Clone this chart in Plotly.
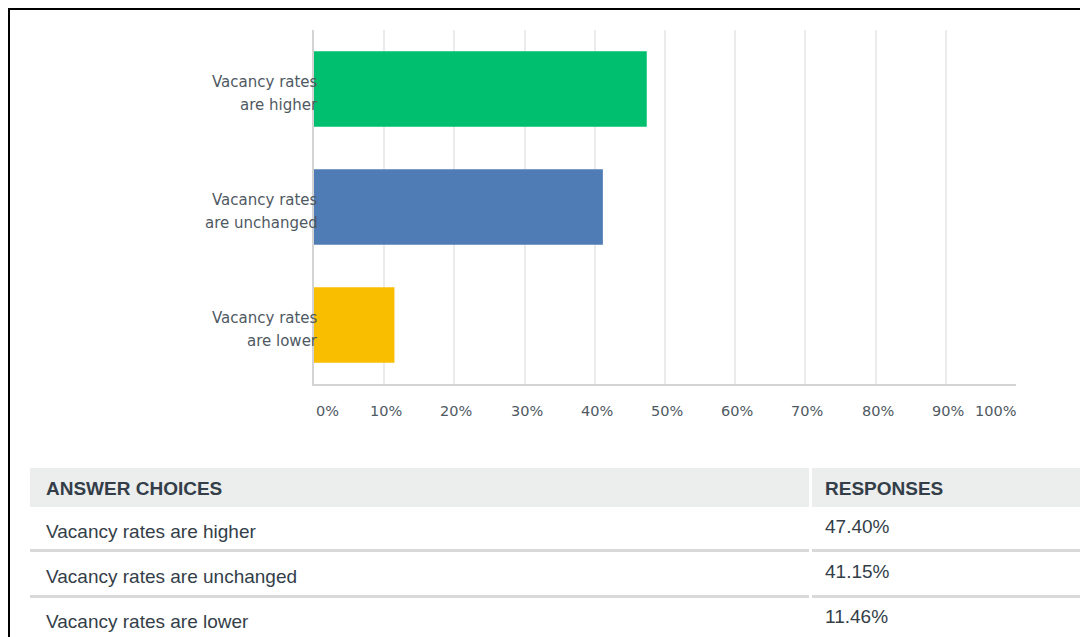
import plotly.graph_objects as go

# ---- data ----
categories = ["Vacancy rates are higher", "Vacancy rates are unchanged", "Vacancy rates are lower"]
cat_labels = ["Vacancy rates<br>are higher", "Vacancy rates<br>are unchanged", "Vacancy rates<br>are lower"]
responses = [47.40, 41.15, 11.46]
bar_colors = ["#00BF6F", "#507CB6", "#F9BE00"]
tick_vals = [0, 10, 20, 30, 40, 50, 60, 70, 80, 90, 100]
tick_text = ["0%", "10%", "20%", "30%", "40%", "50%", "60%", "70%", "80%", "90%", "100%"]
table_headers = ["ANSWER CHOICES", "RESPONSES"]

# ---- layout geometry (pixels, page coordinates) ----
OFF = 8  # page body margin
W, H = 1088 - OFF, 637 - OFF
L, R, T, B = 314, 1016, 30, 384
PW, PH = R - L, B - T


def px(x):
    return (x - L) / PW


def py(y):
    return (B - y) / PH


CHART_FONT = "DejaVu Sans"
TABLE_FONT = "Liberation Sans"
LABEL_COLOR = "#4f5962"
TABLE_TEXT = "#333e48"
TFS = 19

fig = go.Figure()
fig.add_trace(go.Bar(
    x=responses, y=categories, orientation="h",
    marker=dict(color=bar_colors, line=dict(width=0)),
    hoverinfo="skip", showlegend=False,
))

annotations = []
# y category labels (two lines each)
for cat, lab in zip(categories, cat_labels):
    lines = lab.split("<br>")
    n = len(lines)
    for i, ln in enumerate(lines):
        annotations.append(dict(
            x=0, xref="paper", y=cat, yref="y", text=ln, showarrow=False,
            xanchor="right", yanchor="middle", xshift=6,
            yshift=(n - 1) / 2 * 11.5 - i * 23 + 1,
            font=dict(family=CHART_FONT, size=15, color=LABEL_COLOR),
        ))

# x tick labels
for v, t in zip(tick_vals, tick_text):
    if v == tick_vals[0]:
        xa, xs = "left", 0
    elif v == tick_vals[-1]:
        xa, xs = "right", 2
    else:
        xa, xs = "center", 2
    annotations.append(dict(
        x=v, xref="x", y=py(411), yref="paper", text=t, showarrow=False,
        xanchor=xa, yanchor="middle", xshift=xs,
        font=dict(family=CHART_FONT, size=14.5, color=LABEL_COLOR),
    ))

shapes = []
# border of screenshot (drawn at the figure's top/left edge)
shapes.append(dict(type="line", xref="paper", yref="paper", x0=px(8), x1=px(1100), y0=py(9), y1=py(9),
                   line=dict(color="#000000", width=2)))
shapes.append(dict(type="line", xref="paper", yref="paper", x0=px(9), x1=px(9), y0=py(8), y1=py(650),
                   line=dict(color="#000000", width=2)))

# table header background
HEADER_BG = "#ECEDED"
shapes.append(dict(type="rect", xref="paper", yref="paper", x0=px(30), x1=px(809), y0=py(468), y1=py(507),
                   fillcolor=HEADER_BG, line=dict(width=0), layer="below"))
shapes.append(dict(type="rect", xref="paper", yref="paper", x0=px(812), x1=px(1100), y0=py(468), y1=py(507),
                   fillcolor=HEADER_BG, line=dict(width=0), layer="below"))
# row separators
for ysep in (550.5, 596.5):
    shapes.append(dict(type="line", xref="paper", yref="paper", x0=px(30), x1=px(809), y0=py(ysep), y1=py(ysep),
                       line=dict(color="#D9D9D9", width=3)))
    shapes.append(dict(type="line", xref="paper", yref="paper", x0=px(812), x1=px(1100), y0=py(ysep), y1=py(ysep),
                       line=dict(color="#D9D9D9", width=3)))

# table header text
annotations.append(dict(x=px(44), y=py(488), xref="paper", yref="paper", text="<b>" + table_headers[0] + "</b>",
                        showarrow=False, xanchor="left", yanchor="middle",
                        font=dict(family=TABLE_FONT, size=TFS, color=TABLE_TEXT)))
annotations.append(dict(x=px(823), y=py(488), xref="paper", yref="paper", text="<b>" + table_headers[1] + "</b>",
                        showarrow=False, xanchor="left", yanchor="middle",
                        font=dict(family=TABLE_FONT, size=TFS, color=TABLE_TEXT)))
# table rows
row_label_y = [531, 576, 621]
row_value_y = [526, 571, 616]
for cat, val, yl, yv in zip(categories, responses, row_label_y, row_value_y):
    annotations.append(dict(x=px(44), y=py(yl), xref="paper", yref="paper", text=cat,
                            showarrow=False, xanchor="left", yanchor="middle",
                            font=dict(family=TABLE_FONT, size=TFS, color=TABLE_TEXT)))
    annotations.append(dict(x=px(823), y=py(yv), xref="paper", yref="paper", text=f"{val:.2f}%",
                            showarrow=False, xanchor="left", yanchor="middle",
                            font=dict(family=TABLE_FONT, size=TFS, color=TABLE_TEXT)))

fig.update_layout(
    width=W, height=H,
    margin=dict(l=L - OFF, r=W - (R - OFF), t=T - OFF, b=H - (B - OFF), pad=0),
    paper_bgcolor="white", plot_bgcolor="white",
    bargap=0.36,
    xaxis=dict(range=[0, 100], tickvals=tick_vals, showticklabels=False, showgrid=True,
               gridcolor="#EBEBEB", gridwidth=1.5, zeroline=False, showline=True,
               linecolor="#D3D3D3", linewidth=2, ticks="", fixedrange=True),
    yaxis=dict(categoryorder="array", categoryarray=categories, autorange="reversed",
               showticklabels=False, showgrid=False, zeroline=False, showline=True,
               linecolor="#D3D3D3", linewidth=2, ticks="", fixedrange=True),
    shapes=shapes,
    annotations=annotations,
)

fig.write_html("out.html")
